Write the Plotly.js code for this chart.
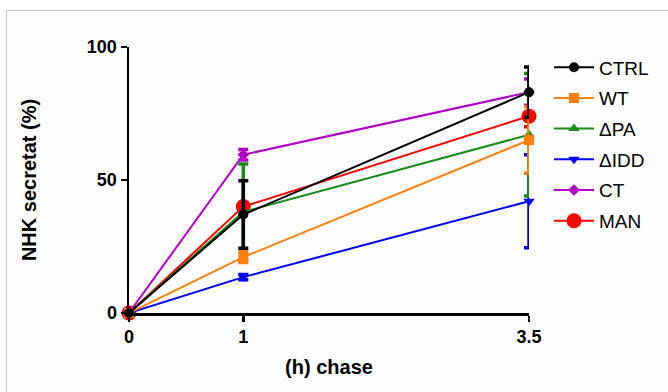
<!DOCTYPE html>
<html><head><meta charset="utf-8">
<script src="https://cdn.plot.ly/plotly-3.0.1.min.js"></script>
<style>
html,body{margin:0;padding:0;background:#fff;}
#frame{position:absolute;left:6px;top:10px;width:700px;height:400px;border-left:1px solid #c8c8c8;border-top:1px solid #c8c8c8;background:#fdfdfd;}
#chart{position:absolute;left:0;top:0;width:668px;height:392px;}
</style></head>
<body>
<div id="frame"></div>
<div id="chart"></div>
<script>
const hours = [0, 1, 3.5];
const seriesNames = ["CTRL", "WT", "ΔPA", "ΔIDD", "CT", "MAN"];
const CTRL = [0, 37, 83];
const CTRL_err = [0, 12.7, 9.5];
const WT = [0, 21, 65];
const WT_err = [0, 2, 12.5];
const dPA = [0, 38, 67];
const dPA_err = [0, 18, 23];
const dIDD = [0, 13.5, 42];
const dIDD_err = [0, 1, 17.5];
const CT = [0, 59.5, 83];
const CT_err = [0, 2, 5];
const MAN = [0, 40, 74];
const MAN_err = [0, 1, 4];
const xTicks = [0, 1, 3.5];
const yTicks = [0, 50, 100];

const styles = {
  "CTRL": {color:"#000000", symbol:"circle", size:10},
  "WT": {color:"#ff7f0e", symbol:"square", size:10},
  "ΔPA": {color:"#1a8a1a", symbol:"triangle-up", size:10},
  "ΔIDD": {color:"#0000ff", symbol:"triangle-down", size:10},
  "CT": {color:"#b000c8", symbol:"diamond", size:9},
  "MAN": {color:"#ff0000", symbol:"circle", size:15}
};
const vals = {"CTRL":[CTRL,CTRL_err],"WT":[WT,WT_err],"ΔPA":[dPA,dPA_err],"ΔIDD":[dIDD,dIDD_err],"CT":[CT,CT_err],"MAN":[MAN,MAN_err]};

const order = ["MAN","CT","ΔIDD","ΔPA","WT","CTRL"];
const traces = order.map(n => ({
  type:"scatter", mode:"lines+markers", name:n, x:hours, y:vals[n][0],
  legendgroup:n,
  legendrank: seriesNames.indexOf(n) + 1,
  cliponaxis:false,
  line:{color:styles[n].color, width:2},
  marker:{color:styles[n].color, symbol:styles[n].symbol, size:styles[n].size, line:{width:0}},
  error_y:{type:"data", array:vals[n][1], visible:true, color:styles[n].color, thickness:3.5, width:5}
}));

const layout = {
  width:668, height:392,
  margin:{l:129, r:139, t:47, b:79},
  paper_bgcolor:"rgba(0,0,0,0)", plot_bgcolor:"rgba(0,0,0,0)",
  font:{family:"Liberation Sans, Arial, sans-serif", color:"#000"},
  showlegend:true,
  legend:{x:1.05, xanchor:"left", y:0.995, yanchor:"top", traceorder:"grouped",
    font:{size:19, color:"#000"}, itemwidth:40, tracegroupgap:3, bgcolor:"rgba(0,0,0,0)"},
  xaxis:{range:[0,3.5], tickvals:xTicks, ticktext:xTicks.map(String), showgrid:false, zeroline:false,
    showline:true, linecolor:"#000", linewidth:2.5, ticks:"outside", ticklen:6, tickwidth:2.5, tickcolor:"#000",
    tickfont:{size:18, family:"Liberation Sans, Arial, sans-serif", weight:"bold"},
    title:{text:"<b>(h) chase</b>", font:{size:20}, standoff:14}},
  yaxis:{range:[0,100], tickvals:yTicks, ticktext:yTicks.map(String), showgrid:false, zeroline:false,
    showline:true, linecolor:"#000", linewidth:2.5, ticks:"outside", ticklen:6, tickwidth:2.5, tickcolor:"#000",
    tickfont:{size:18, family:"Liberation Sans, Arial, sans-serif", weight:"bold"},
    title:{text:"<b>NHK secretat (%)</b>", font:{size:20}, standoff:45}}
};
Plotly.newPlot("chart", traces, layout, {staticPlot:true, displayModeBar:false});
</script>
</body></html>
